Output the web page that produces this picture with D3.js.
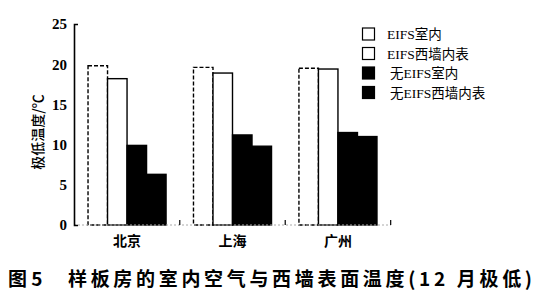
<!DOCTYPE html>
<html>
<head>
<meta charset="utf-8">
<script src="https://cdn.jsdelivr.net/npm/d3@7"></script>
<style>
  body { margin: 0; background: #fff; }
  svg { display: block; }
</style>
</head>
<body>
<div id="chart-container"></div>
<script>
// data
const cities = ['北京', '上海', '广州']
const seriesNames = ['EIFS室内', 'EIFS西墙内表', '无EIFS室内', '无EIFS西墙内表']
const eifsIndoor = [19.8, 19.6, 19.5]
const eifsWall = [18.2, 18.9, 19.4]
const noEifsIndoor = [9.9, 11.2, 11.5]
const noEifsWall = [6.3, 9.8, 11.0]
const yTicks = [0, 5, 10, 15, 20, 25]

const width = 537
const height = 303
const serif = '"Liberation Serif", "Times New Roman", "Noto Sans CJK SC", serif'
const cjk = '"Noto Sans CJK SC", sans-serif'

const svg = d3.select('#chart-container')
    .append('svg')
    .attr('width', width)
    .attr('height', height)

const series = [eifsIndoor, eifsWall, noEifsIndoor, noEifsWall]
const styles = [
    { fill: '#fff', dash: '4,2' },
    { fill: '#fff', dash: null },
    { fill: '#000', dash: null },
    { fill: '#000', dash: null }
]

const x = d3.scaleBand()
    .domain(cities)
    .range([74, 391])
    .paddingInner(0.26)
    .paddingOuter(0.133)

const xSub = d3.scaleBand()
    .domain(d3.range(series.length))
    .range([0, x.bandwidth()])

const y = d3.scaleLinear()
    .domain([0, 25])
    .range([225, 24])

// bars
const groups = svg.selectAll('.city')
    .data(cities)
    .enter()
    .append('g')
    .attr('class', 'city')
    .attr('transform', d => 'translate(' + x(d) + ',0)')

groups.selectAll('rect')
    .data((d, i) => series.map((s, j) => ({ j: j, v: s[i] })))
    .enter()
    .append('rect')
    .attr('x', d => xSub(d.j))
    .attr('y', d => y(d.v))
    .attr('width', xSub.bandwidth())
    .attr('height', d => y(0) - y(d.v))
    .attr('fill', d => styles[d.j].fill)
    .attr('stroke', '#000')
    .attr('stroke-width', 1.4)
    .attr('stroke-dasharray', d => styles[d.j].dash)

// x baseline (faint, dotted in the scan)
svg.append('line')
    .attr('x1', 74).attr('x2', 391)
    .attr('y1', y(0)).attr('y2', y(0))
    .attr('stroke', '#aaa')
    .attr('stroke-width', 1)
    .attr('stroke-dasharray', '2,2')

// group separator ticks
const sepTicks = cities.map(c => x(c) + x.bandwidth() + x.step() * x.paddingInner() / 2)
svg.selectAll('.sep')
    .data(sepTicks)
    .enter()
    .append('line')
    .attr('x1', d => d).attr('x2', d => d)
    .attr('y1', y(0)).attr('y2', y(0) - 5)
    .attr('stroke', '#000')
    .attr('stroke-width', 1.2)

// y axis
const yAxis = svg.append('g')
    .attr('transform', 'translate(74,0)')
    .call(d3.axisLeft(y).tickValues(yTicks).tickSizeInner(0).tickSizeOuter(-4).tickPadding(7))
yAxis.attr('font-family', null)
yAxis.select('.domain').attr('stroke-width', 1.6)
yAxis.selectAll('text')
    .style('font-family', serif)
    .style('font-weight', 'bold')
    .style('font-size', '15px')
    .attr('fill', '#000')

svg.append('text')
    .attr('transform', 'translate(43,132) rotate(-90)')
    .attr('text-anchor', 'middle')
    .style('font-family', cjk)
    .style('font-size', '14px')
    .style('font-weight', '500')
    .text('极低温度/℃')

// x labels
svg.selectAll('.xlabel')
    .data(cities)
    .enter()
    .append('text')
    .attr('class', 'xlabel')
    .attr('x', d => x(d) + x.bandwidth() / 2)
    .attr('y', 246)
    .attr('text-anchor', 'middle')
    .style('font-family', cjk)
    .style('font-size', '14px')
    .style('font-weight', 'bold')
    .text(d => d)

// legend
const legend = svg.append('g')
    .attr('transform', 'translate(362,34)')
const rows = legend.selectAll('g')
    .data(seriesNames)
    .enter()
    .append('g')
    .attr('transform', (d, i) => 'translate(0,' + (i * 19.5) + ')')
rows.append('rect')
    .attr('x', 0.5).attr('y', -6)
    .attr('width', 12).attr('height', 12)
    .attr('fill', (d, i) => styles[i].fill)
    .attr('stroke', '#000')
    .attr('stroke-width', 1.2)
rows.append('text')
    .attr('x', (d, i) => i < 2 ? 25 : 28)
    .attr('y', 5)
    .style('font-family', serif)
    .style('font-size', '13.5px')
    .text(d => d)

// caption
const caption = svg.append('g')
    .style('font-family', cjk)
    .style('font-weight', 'bold')
    .style('font-size', '19px')
caption.append('text')
    .attr('x', 8).attr('y', 286)
    .text('图 5')
caption.append('text')
    .attr('x', 68).attr('y', 286)
    .attr('textLength', 464)
    .attr('lengthAdjust', 'spacing')
    .text('样板房的室内空气与西墙表面温度(12 月极低)')
</script>
</body>
</html>
